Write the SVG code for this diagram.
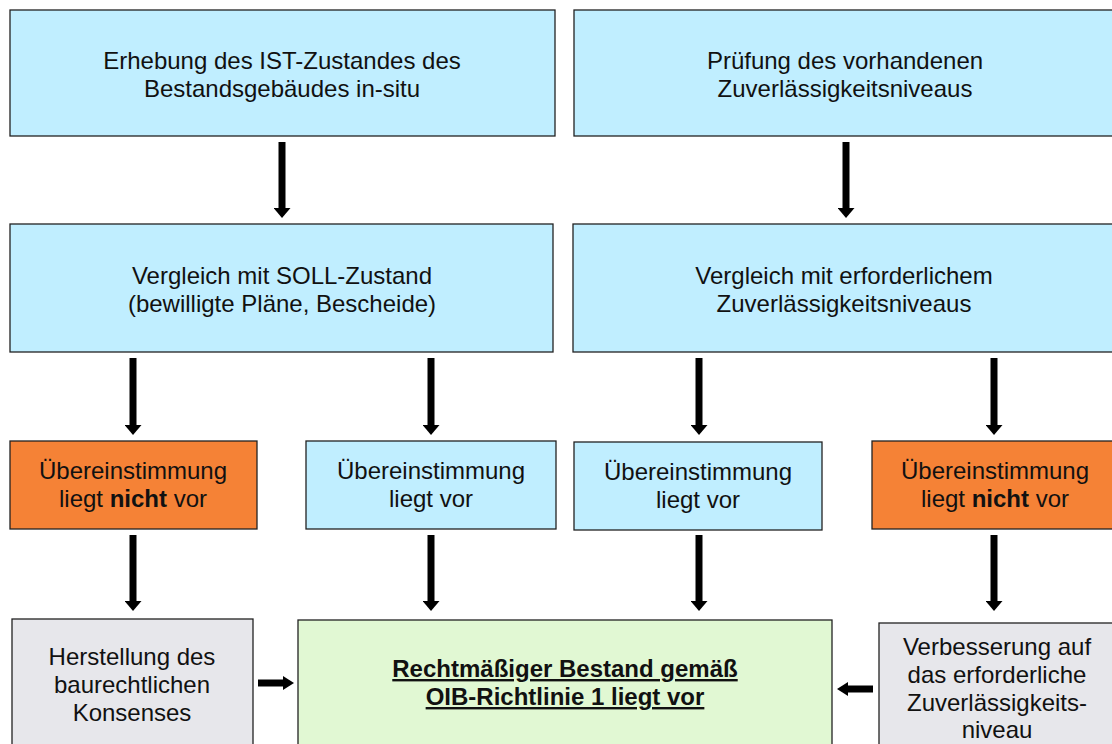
<svg xmlns="http://www.w3.org/2000/svg" width="1112" height="744" viewBox="0 0 1112 744">
<style>
.box{stroke:#222;stroke-width:1.3}
.blue{fill:#C0EEFF}
.orange{fill:#F58236}
.gray{fill:#E7E7EB}
.green{fill:#E1F8D3}
text{font-family:"Liberation Sans",Arial,sans-serif;font-size:24px;fill:#111;text-anchor:middle}
.b{font-weight:bold}
.u{font-weight:bold;text-decoration:underline}
.arr{stroke:#000;stroke-width:7;fill:none;marker-end:url(#ah)}
.arrh{stroke:#000;stroke-width:7;fill:none;marker-end:url(#ahs)}
</style>
<defs>
<marker id="ah" markerUnits="userSpaceOnUse" markerWidth="10" markerHeight="17" viewBox="0 0 10 17" refX="0" refY="8.5" orient="auto">
<path d="M0,0 L10,8.5 L0,17 Z" fill="#000"/>
</marker>
<marker id="ahs" markerUnits="userSpaceOnUse" markerWidth="11" markerHeight="14" viewBox="0 0 11 14" refX="0" refY="7" orient="auto">
<path d="M0,0 L11,7 L0,14 Z" fill="#000"/>
</marker>
</defs>
<rect width="1112" height="744" fill="#fff"/>
<g id="n-ist">
<rect class="box blue" x="10" y="10" width="545" height="126"/>
<text x="282" y="69">Erhebung des IST-Zustandes des</text>
<text x="282" y="97">Bestandsgebäudes in-situ</text>
</g>
<g id="n-pruefung">
<rect class="box blue" x="574" y="10" width="540" height="126"/>
<text x="845" y="69">Prüfung des vorhandenen</text>
<text x="845" y="97">Zuverlässigkeitsniveaus</text>
</g>
<g id="n-soll">
<rect class="box blue" x="10" y="224" width="543" height="128"/>
<text x="282" y="284">Vergleich mit SOLL-Zustand</text>
<text x="282" y="312">(bewilligte Pläne, Bescheide)</text>
</g>
<g id="n-erf">
<rect class="box blue" x="573" y="224" width="541" height="128"/>
<text x="844" y="284">Vergleich mit erforderlichem</text>
<text x="844" y="312">Zuverlässigkeitsniveaus</text>
</g>
<g id="n-nicht1">
<rect class="box orange" x="10" y="441" width="247" height="88"/>
<text x="133" y="479">Übereinstimmung</text>
<text x="133" y="507">liegt <tspan class="b">nicht</tspan> vor</text>
</g>
<g id="n-vor1">
<rect class="box blue" x="306" y="441" width="250" height="88"/>
<text x="431" y="479">Übereinstimmung</text>
<text x="431" y="507">liegt vor</text>
</g>
<g id="n-vor2">
<rect class="box blue" x="574" y="442" width="248" height="88"/>
<text x="698" y="480">Übereinstimmung</text>
<text x="698" y="508">liegt vor</text>
</g>
<g id="n-nicht2">
<rect class="box orange" x="872" y="441" width="242" height="88"/>
<text x="995" y="479">Übereinstimmung</text>
<text x="995" y="507">liegt <tspan class="b">nicht</tspan> vor</text>
</g>
<g id="n-konsens">
<rect class="box gray" x="12" y="619" width="241" height="130"/>
<text x="132" y="665">Herstellung des</text>
<text x="132" y="693">baurechtlichen</text>
<text x="132" y="721">Konsenses</text>
</g>
<g id="n-bestand">
<rect class="box green" x="298" y="620" width="534" height="130"/>
<text class="u" x="565" y="677">Rechtmäßiger Bestand gemäß</text>
<text class="u" x="565" y="705">OIB-Richtlinie 1 liegt vor</text>
</g>
<g id="n-verbesserung">
<rect class="box gray" x="879" y="623" width="236" height="130"/>
<text x="997" y="655">Verbesserung auf</text>
<text x="997" y="683">das erforderliche</text>
<text x="997" y="711">Zuverlässigkeits-</text>
<text x="997" y="738">niveau</text>
</g>
<g id="connectors">
<line class="arr" x1="282" y1="142" x2="282" y2="208"/>
<line class="arr" x1="846" y1="142" x2="846" y2="208"/>
<line class="arr" x1="133" y1="358" x2="133" y2="425"/>
<line class="arr" x1="431" y1="358" x2="431" y2="425"/>
<line class="arr" x1="699" y1="358" x2="699" y2="425"/>
<line class="arr" x1="994" y1="358" x2="994" y2="425"/>
<line class="arr" x1="133" y1="535" x2="133" y2="601"/>
<line class="arr" x1="431" y1="535" x2="431" y2="601"/>
<line class="arr" x1="699" y1="535" x2="699" y2="601"/>
<line class="arr" x1="994" y1="535" x2="994" y2="601"/>
<line class="arrh" x1="258" y1="683" x2="283" y2="683"/>
<line class="arrh" x1="873" y1="689" x2="848" y2="689"/>
</g>
</svg>
